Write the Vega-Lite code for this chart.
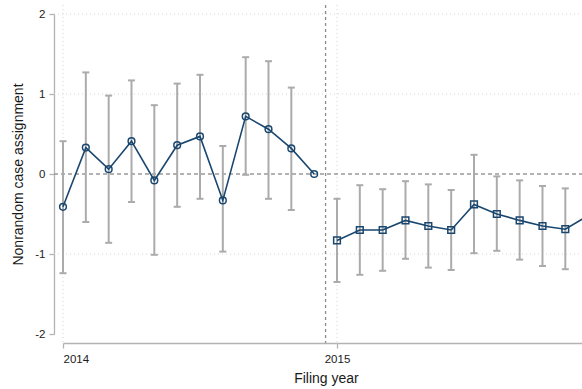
{
  "$schema": "https://vega.github.io/schema/vega-lite/v6.json",
  "width": 519,
  "height": 320,
  "autosize": {"type": "none"},
  "padding": {"left": 63, "top": 14, "right": 0, "bottom": 55},
  "background": "white",
  "datasets": {
    "estimates": [
      {"t": 2014.0, "period": "2014", "est": -0.41, "lo": -1.24, "hi": 0.41},
      {"t": 2014.0833, "period": "2014", "est": 0.33, "lo": -0.60, "hi": 1.27},
      {"t": 2014.1667, "period": "2014", "est": 0.06, "lo": -0.86, "hi": 0.98},
      {"t": 2014.25, "period": "2014", "est": 0.41, "lo": -0.35, "hi": 1.17},
      {"t": 2014.3333, "period": "2014", "est": -0.08, "lo": -1.01, "hi": 0.86},
      {"t": 2014.4167, "period": "2014", "est": 0.36, "lo": -0.41, "hi": 1.13},
      {"t": 2014.5, "period": "2014", "est": 0.47, "lo": -0.31, "hi": 1.24},
      {"t": 2014.5833, "period": "2014", "est": -0.33, "lo": -0.97, "hi": 0.35},
      {"t": 2014.6667, "period": "2014", "est": 0.72, "lo": -0.01, "hi": 1.46},
      {"t": 2014.75, "period": "2014", "est": 0.56, "lo": -0.31, "hi": 1.41},
      {"t": 2014.8333, "period": "2014", "est": 0.32, "lo": -0.45, "hi": 1.08},
      {"t": 2014.9167, "period": "2014", "est": 0.0, "lo": null, "hi": null},
      {"t": 2015.0, "period": "2015", "est": -0.83, "lo": -1.35, "hi": -0.31},
      {"t": 2015.0833, "period": "2015", "est": -0.70, "lo": -1.26, "hi": -0.14},
      {"t": 2015.1667, "period": "2015", "est": -0.70, "lo": -1.21, "hi": -0.19},
      {"t": 2015.25, "period": "2015", "est": -0.58, "lo": -1.06, "hi": -0.09},
      {"t": 2015.3333, "period": "2015", "est": -0.65, "lo": -1.17, "hi": -0.13},
      {"t": 2015.4167, "period": "2015", "est": -0.70, "lo": -1.20, "hi": -0.20},
      {"t": 2015.5, "period": "2015", "est": -0.38, "lo": -0.99, "hi": 0.24},
      {"t": 2015.5833, "period": "2015", "est": -0.50, "lo": -0.96, "hi": -0.03},
      {"t": 2015.6667, "period": "2015", "est": -0.58, "lo": -1.07, "hi": -0.08},
      {"t": 2015.75, "period": "2015", "est": -0.65, "lo": -1.15, "hi": -0.15},
      {"t": 2015.8333, "period": "2015", "est": -0.69, "lo": -1.19, "hi": -0.18},
      {"t": 2015.9167, "period": "2015", "est": -0.52, "lo": -1.00, "hi": -0.04}
    ],
    "ygrid": [{"v": -1}, {"v": 1}, {"v": 2}],
    "xgrid": [{"v": 2014}, {"v": 2015}],
    "zero": [{"v": 0}],
    "breakpoint": [{"v": 2014.9583}]
  },
  "config": {
    "view": {"stroke": null},
    "font": "Liberation Sans",
    "axis": {
      "grid": false,
      "domainColor": "#b3b3b3",
      "domainWidth": 1.3,
      "tickColor": "#b3b3b3",
      "tickWidth": 1.3,
      "tickSize": 5,
      "labelFontSize": 11.5,
      "labelColor": "#1a1a1a",
      "titleFontSize": 14,
      "titleFontWeight": "normal",
      "titleColor": "#1a1a1a"
    }
  },
  "layer": [
    {
      "data": {"name": "ygrid"},
      "mark": {"type": "rule", "color": "#d4d4d4", "strokeWidth": 1, "strokeDash": [1, 3]},
      "encoding": {
        "y": {
          "field": "v", "type": "quantitative",
          "scale": {"domain": [-2, 2], "nice": false, "zero": false},
          "axis": {
            "values": [-2, -1, 0, 1, 2],
            "offset": 9,
            "labelPadding": 4,
            "labelExpr": "datum.value < 0 ? '-' + format(-datum.value, 'd') : format(datum.value, 'd')",
            "title": "Nonrandom case assignment",
            "titlePadding": 9
          }
        },
        "x": {"datum": 2013.9672, "type": "quantitative"},
        "x2": {"datum": 2016.2}
      }
    },
    {
      "data": {"name": "xgrid"},
      "mark": {"type": "rule", "color": "#d4d4d4", "strokeWidth": 1, "strokeDash": [1, 3]},
      "encoding": {
        "x": {
          "field": "v", "type": "quantitative",
          "scale": {"domain": [2014, 2015.8942], "nice": false, "zero": false},
          "axis": {
            "values": [2014, 2015],
            "format": "d",
            "offset": 9,
            "labelPadding": 5,
            "title": "Filing year",
            "titleX": 263,
            "titlePadding": 7
          }
        },
        "y": {"datum": 2.1125, "type": "quantitative"},
        "y2": {"datum": -2.1125}
      }
    },
    {
      "data": {"name": "zero"},
      "mark": {"type": "rule", "color": "#999999", "strokeWidth": 1.3, "strokeDash": [4, 3]},
      "encoding": {
        "y": {"field": "v", "type": "quantitative"},
        "x": {"datum": 2013.9672, "type": "quantitative"},
        "x2": {"datum": 2016.2}
      }
    },
    {
      "data": {"name": "breakpoint"},
      "mark": {"type": "rule", "color": "#8c8c8c", "strokeWidth": 1.3, "strokeDash": [3, 3]},
      "encoding": {
        "x": {"field": "v", "type": "quantitative"},
        "y": {"datum": 2.1125, "type": "quantitative"},
        "y2": {"datum": -2.1125}
      }
    },
    {
      "data": {"name": "estimates"},
      "mark": {"type": "rule", "color": "#ababab", "strokeWidth": 2},
      "encoding": {
        "x": {"field": "t", "type": "quantitative"},
        "y": {"field": "lo", "type": "quantitative"},
        "y2": {"field": "hi"}
      }
    },
    {
      "data": {"name": "estimates"},
      "mark": {"type": "rule", "color": "#ababab", "strokeWidth": 2, "xOffset": -3.5, "x2Offset": 3.5},
      "encoding": {
        "x": {"field": "t", "type": "quantitative"},
        "x2": {"field": "t"},
        "y": {"field": "lo", "type": "quantitative"}
      }
    },
    {
      "data": {"name": "estimates"},
      "mark": {"type": "rule", "color": "#ababab", "strokeWidth": 2, "xOffset": -3.5, "x2Offset": 3.5},
      "encoding": {
        "x": {"field": "t", "type": "quantitative"},
        "x2": {"field": "t"},
        "y": {"field": "hi", "type": "quantitative"}
      }
    },
    {
      "data": {"name": "estimates"},
      "mark": {"type": "line", "color": "#1a476f", "strokeWidth": 1.6},
      "encoding": {
        "x": {"field": "t", "type": "quantitative"},
        "y": {"field": "est", "type": "quantitative"},
        "detail": {"field": "period", "type": "nominal"}
      }
    },
    {
      "data": {"name": "estimates"},
      "mark": {"type": "point", "filled": false, "stroke": "#1a476f", "strokeWidth": 1.5, "size": 45, "opacity": 1},
      "encoding": {
        "x": {"field": "t", "type": "quantitative"},
        "y": {"field": "est", "type": "quantitative"},
        "shape": {
          "field": "period", "type": "nominal",
          "scale": {"domain": ["2014", "2015"], "range": ["circle", "square"]},
          "legend": null
        }
      }
    }
  ]
}
